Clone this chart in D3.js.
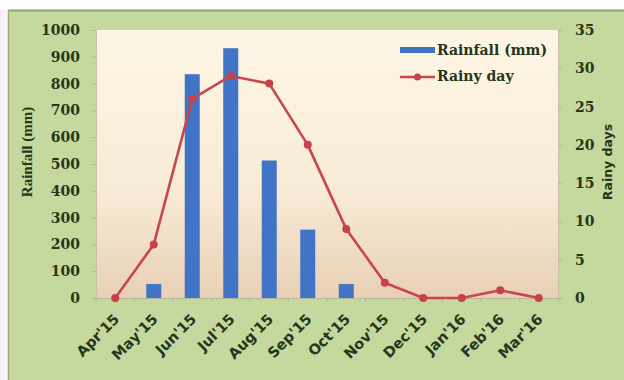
<!DOCTYPE html>
<html><head><meta charset="utf-8">
<script src="https://cdn.jsdelivr.net/npm/d3@7"></script>
<style>html,body{margin:0;padding:0;background:#fff;}svg{display:block;}</style>
</head><body>
<script>
const categories = ["Apr'15","May'15","Jun'15","Jul'15","Aug'15","Sep'15","Oct'15","Nov'15","Dec'15","Jan'16","Feb'16","Mar'16"];
const rainfall = [0, 52, 835, 932, 513, 255, 52, 0, 0, 0, 0, 0];
const rainyDays = [0, 7, 26, 29, 28, 20, 9, 2, 0, 0, 1, 0];
const leftTicks = [0,100,200,300,400,500,600,700,800,900,1000];
const rightTicks = [0,5,10,15,20,25,30,35];

const W = 624, H = 380;
const m = {l: 96, r: 558, t: 30, b: 298};
const svg = d3.select("body").append("svg").attr("width", W).attr("height", H);
const defs = svg.append("defs");
const lg = defs.append("linearGradient").attr("id","pg").attr("x1",0).attr("y1",0).attr("x2",0).attr("y2",1);
lg.append("stop").attr("offset","0").attr("stop-color","#fdf6e4");
lg.append("stop").attr("offset","0.6").attr("stop-color","#f8ebd6");
lg.append("stop").attr("offset","1").attr("stop-color","#e8d0b6");
const lg2 = defs.append("linearGradient").attr("id","lp").attr("x1",0).attr("y1",0).attr("x2",1).attr("y2",0);
lg2.append("stop").attr("offset","0").attr("stop-color","#f4ecf2");
lg2.append("stop").attr("offset","1").attr("stop-color","#fbf8fa");

svg.append("rect").attr("x",0).attr("y",0).attr("width",W).attr("height",H).attr("fill","#ffffff");
svg.append("rect").attr("x",0).attr("y",10).attr("width",8).attr("height",H-10).attr("fill","url(#lp)");
svg.append("rect").attr("x",8).attr("y",10).attr("width",W-8).attr("height",H-10).attr("fill","#c5d89e");
svg.append("line").attr("x1",8).attr("x2",W).attr("y1",10.5).attr("y2",10.5).attr("stroke","#8f9f78").attr("stroke-width",2);
svg.append("line").attr("x1",8.5).attr("x2",8.5).attr("y1",10).attr("y2",H).attr("stroke","#9aab80").attr("stroke-width",1.5);

svg.append("rect").attr("x",m.l).attr("y",m.t).attr("width",m.r-m.l).attr("height",m.b-m.t).attr("fill","url(#pg)");

const x = d3.scaleBand().domain(categories).range([m.l, m.r]);
const yL = d3.scaleLinear().domain([0,1000]).range([m.b, m.t]);
const yR = d3.scaleLinear().domain([0,35]).range([m.b, m.t]);

const txt = "#26361a";
const serif = "'DejaVu Serif', serif";
const sans = "'DejaVu Sans', sans-serif";

// left axis
const gl = svg.append("g").attr("transform",`translate(${m.l},0)`)
  .call(d3.axisLeft(yL).tickValues(leftTicks).tickFormat(d3.format("d")).tickSize(4).tickPadding(12));
gl.select(".domain").attr("stroke","#c8c0a8");
gl.selectAll(".tick line").attr("stroke","#b0b89a");
gl.selectAll("text").attr("fill",txt).attr("font-family",serif).attr("font-weight","bold").attr("font-size","14px");

// right axis
const gr = svg.append("g").attr("transform",`translate(${m.r},0)`)
  .call(d3.axisRight(yR).tickValues(rightTicks).tickFormat(d3.format("d")).tickSize(4).tickPadding(13));
gr.select(".domain").attr("stroke","#c8c0a8");
gr.selectAll(".tick line").attr("stroke","#b0b89a");
gr.selectAll("text").attr("fill",txt).attr("font-family",serif).attr("font-weight","bold").attr("font-size","14px");

// bottom axis
const gb = svg.append("g").attr("transform",`translate(0,${m.b})`)
  .call(d3.axisBottom(x).tickSize(4).tickSizeOuter(0));
gb.select(".domain").attr("stroke","#b9b39c");
gb.selectAll(".tick line").remove();
gb.selectAll("text").attr("fill",txt).attr("font-family",sans).attr("font-weight","bold").attr("font-size","14.5px")
  .attr("text-anchor","end").attr("x",0).attr("y",0).attr("dy",0)
  .attr("transform","translate(5,22) rotate(-45)");
// category separators
svg.append("g").selectAll("line").data(categories.concat(["end"])).join("line")
  .attr("x1",(d,i)=>m.l + i*x.step()).attr("x2",(d,i)=>m.l + i*x.step())
  .attr("y1",m.b).attr("y2",m.b+4).attr("stroke","#b0b89a");

// bars
const bw = 15;
svg.append("g").selectAll("rect").data(rainfall).join("rect")
  .attr("x",(d,i)=>x(categories[i]) + x.bandwidth()/2 - bw/2)
  .attr("width",bw)
  .attr("y",d=>yL(d)).attr("height",d=>m.b - yL(d))
  .attr("fill","#4173c6");

// line
const line = d3.line().x((d,i)=>x(categories[i])+x.bandwidth()/2).y(d=>yR(d));
svg.append("path").datum(rainyDays).attr("d",line).attr("fill","none")
  .attr("stroke","#c8474a").attr("stroke-width",2.6).attr("stroke-linejoin","round");
svg.append("g").selectAll("circle").data(rainyDays).join("circle")
  .attr("cx",(d,i)=>x(categories[i])+x.bandwidth()/2).attr("cy",d=>yR(d)).attr("r",4)
  .attr("fill","#c8404a");

// axis titles
svg.append("text").attr("transform","translate(32,152) rotate(-90)").attr("text-anchor","middle")
  .attr("font-family","'Liberation Serif', serif").attr("font-weight","bold").attr("font-size","15px").attr("fill",txt).text("Rainfall (mm)");
svg.append("text").attr("transform","translate(612,162) rotate(-90)").attr("text-anchor","middle")
  .attr("font-family",sans).attr("font-weight","bold").attr("font-size","12.5px").attr("fill",txt).text("Rainy days");

// legend
const lgG = svg.append("g");
lgG.append("rect").attr("x",400).attr("y",47).attr("width",35).attr("height",6).attr("fill","#4173c6");
lgG.append("text").attr("x",437).attr("y",50).attr("dy","0.35em").attr("font-family",serif).attr("font-weight","bold")
  .attr("font-size","14px").attr("fill",txt).text("Rainfall (mm)");
lgG.append("line").attr("x1",400).attr("x2",435).attr("y1",77).attr("y2",77).attr("stroke","#c8474a").attr("stroke-width",2.6);
lgG.append("circle").attr("cx",417.5).attr("cy",77).attr("r",3.5).attr("fill","#c8404a");
lgG.append("text").attr("x",437).attr("y",76).attr("dy","0.35em").attr("font-family",serif).attr("font-weight","bold")
  .attr("font-size","14px").attr("fill",txt).text("Rainy day");
</script>
</body></html>
